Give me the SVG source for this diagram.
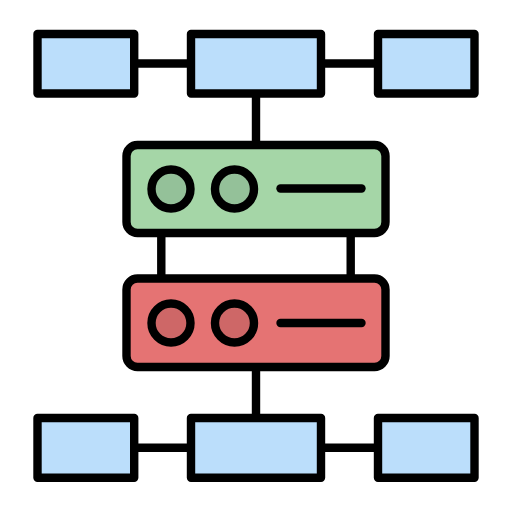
<svg xmlns="http://www.w3.org/2000/svg" width="512" height="512" viewBox="0 0 512 512">
<style>
.s{stroke:#000;stroke-width:8.4;stroke-linejoin:round;stroke-linecap:round}
.b{fill:#bbdefb}
.g{fill:#a5d6a7}
.r{fill:#e57373}
.gc{fill:#94c199}
.rc{fill:#ce6767}
.c{stroke:#000;stroke-width:8.4;fill:none}
</style>
<rect width="512" height="512" fill="#fff"/>
<g id="connectors">
<path class="c" d="M134 63.500H191M321 63.500H378M256 93V145M161.300 233V278.500M350.700 233V278.500M256 367V418M134 447.700H191M321 447.700H378"/>
</g>
<g id="top-left"><rect class="s b" x="37.500" y="34" width="96.700" height="59.500"/></g>
<g id="top-center"><rect class="s b" x="191" y="34" width="130" height="59.500"/></g>
<g id="top-right"><rect class="s b" x="378" y="34" width="96.500" height="59.500"/></g>
<g id="server-green">
<rect class="s g" x="126.500" y="145" width="259" height="88" rx="11"/>
<circle class="s gc" cx="171" cy="189" r="19.500"/>
<circle class="s gc" cx="234.500" cy="189" r="19.500"/>
<path class="s" fill="none" d="M280.500 188.500H361.500"/>
</g>
<g id="server-red">
<rect class="s r" x="126.500" y="278.500" width="259" height="88.500" rx="11"/>
<circle class="s rc" cx="171" cy="323" r="19.500"/>
<circle class="s rc" cx="234.500" cy="323" r="19.500"/>
<path class="s" fill="none" d="M280.500 323H361.500"/>
</g>
<g id="bottom-left"><rect class="s b" x="37.500" y="418" width="96.700" height="59.700"/></g>
<g id="bottom-center"><rect class="s b" x="191" y="418" width="130" height="59.700"/></g>
<g id="bottom-right"><rect class="s b" x="378" y="418" width="96.500" height="59.700"/></g>
</svg>
